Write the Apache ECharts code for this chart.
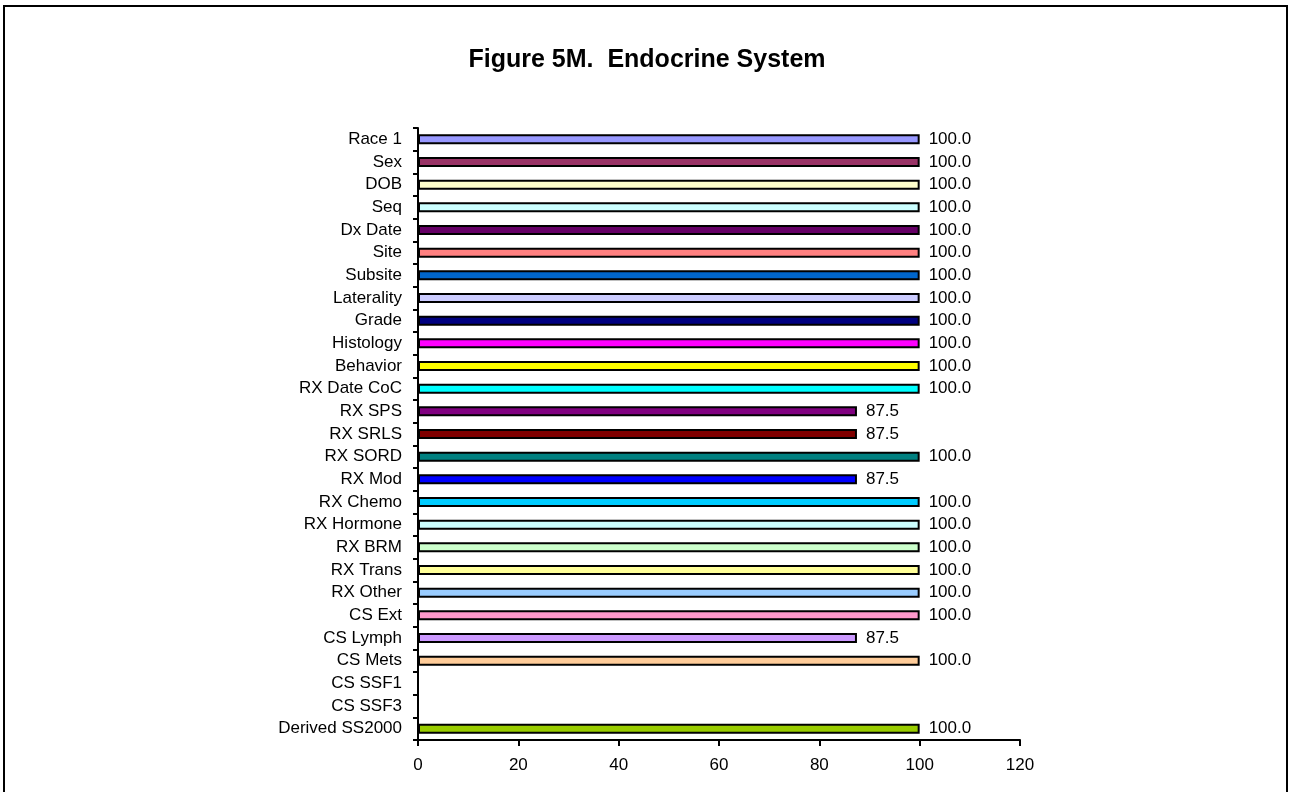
<!DOCTYPE html>
<html>
<head>
<meta charset="utf-8">
<script src="https://cdn.jsdelivr.net/npm/echarts@6/dist/echarts.min.js"></script>
<style>
  html, body { margin: 0; padding: 0; background: #fff; }
  #chart { width: 1294px; height: 792px; }
</style>
</head>
<body>
<div id="chart"></div>
<script>
// Data items, top to bottom
const categories = [
  'Race 1', 'Sex', 'DOB', 'Seq', 'Dx Date', 'Site', 'Subsite', 'Laterality',
  'Grade', 'Histology', 'Behavior', 'RX Date CoC', 'RX SPS', 'RX SRLS',
  'RX SORD', 'RX Mod', 'RX Chemo', 'RX Hormone', 'RX BRM', 'RX Trans',
  'RX Other', 'CS Ext', 'CS Lymph', 'CS Mets', 'CS SSF1', 'CS SSF3',
  'Derived SS2000'
];
// Percent values; null = not reported
const values = [
  100.0, 100.0, 100.0, 100.0, 100.0, 100.0, 100.0, 100.0,
  100.0, 100.0, 100.0, 100.0, 87.5, 87.5,
  100.0, 87.5, 100.0, 100.0, 100.0, 100.0,
  100.0, 100.0, 87.5, 100.0, null, null,
  100.0
];
const barColors = [
  '#9999FF', '#993366', '#FFFFCC', '#CCFFFF', '#660066', '#FF8080', '#0066CC', '#CCCCFF',
  '#000080', '#FF00FF', '#FFFF00', '#00FFFF', '#800080', '#800000',
  '#008080', '#0000FF', '#00CCFF', '#CCFFFF', '#CCFFCC', '#FFFF99',
  '#99CCFF', '#FF99CC', '#CC99FF', '#FFCC99', '#FFFFFF', '#FFFFFF',
  '#99CC00'
];
const xTicks = [0, 20, 40, 60, 80, 100, 120];

const font = 'Arial, "Liberation Sans", sans-serif';
const chart = echarts.init(document.getElementById('chart'), null, { renderer: 'canvas' });

chart.setOption({
  backgroundColor: '#ffffff',
  animation: false,
  title: {
    text: 'Figure 5M.  Endocrine System',
    left: 'center',
    top: 43,
    textStyle: { fontFamily: font, fontSize: 25, fontWeight: 'bold', color: '#000' }
  },
  graphic: [{
    type: 'rect',
    shape: { x: 4, y: 6, width: 1283, height: 820 },
    style: { fill: 'none', stroke: '#000', lineWidth: 2 },
    silent: true
  }],
  grid: { left: 418, right: 274, top: 128, bottom: 52, containLabel: false },
  xAxis: {
    type: 'value',
    min: xTicks[0],
    max: xTicks[xTicks.length - 1],
    interval: xTicks[1] - xTicks[0],
    splitLine: { show: false },
    axisLine: { show: true, lineStyle: { color: '#000', width: 2 } },
    axisTick: { show: true, length: 6, lineStyle: { color: '#000', width: 2 } },
    axisLabel: { color: '#000', fontFamily: font, fontSize: 17, margin: 17 }
  },
  yAxis: {
    type: 'category',
    data: categories,
    inverse: true,
    axisLine: { show: true, lineStyle: { color: '#000', width: 2 } },
    axisTick: { show: true, length: 5, alignWithLabel: false, lineStyle: { color: '#000', width: 2 } },
    axisLabel: { color: '#000', fontFamily: font, fontSize: 17, margin: 16 },
    splitLine: { show: false }
  },
  series: [{
    type: 'bar',
    barWidth: 10,
    data: values.map((v, i) => ({
      value: v,
      itemStyle: { color: barColors[i], borderColor: '#000', borderWidth: 2 }
    })),
    label: {
      show: true,
      position: 'right',
      distance: 9,
      color: '#000',
      fontFamily: font,
      fontSize: 17,
      formatter: p => (p.value == null ? '' : Number(p.value).toFixed(1))
    }
  }]
});
</script>
</body>
</html>
